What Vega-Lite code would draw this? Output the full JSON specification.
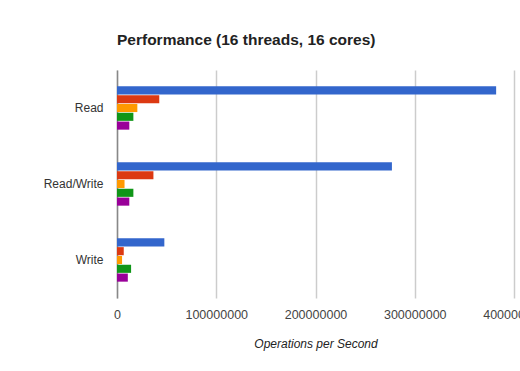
{
  "$schema": "https://vega.github.io/schema/vega-lite/v6.json",
  "autosize": {"type": "none"},
  "padding": {"left": 117, "top": 70, "right": 6, "bottom": 73},
  "width": 397,
  "height": 228,
  "background": "white",
  "title": {
    "text": "Performance (16 threads, 16 cores)",
    "anchor": "start",
    "frame": "group",
    "font": "Liberation Sans",
    "fontSize": 15.5,
    "fontWeight": "bold",
    "color": "#222222",
    "offset": 22
  },
  "data": {
    "values": [
      {"op": "Read", "series": "S1", "value": 382000000},
      {"op": "Read", "series": "S2", "value": 42600000},
      {"op": "Read", "series": "S3", "value": 20500000},
      {"op": "Read", "series": "S4", "value": 16500000},
      {"op": "Read", "series": "S5", "value": 12400000},
      {"op": "Read/Write", "series": "S1", "value": 277000000},
      {"op": "Read/Write", "series": "S2", "value": 36700000},
      {"op": "Read/Write", "series": "S3", "value": 7600000},
      {"op": "Read/Write", "series": "S4", "value": 16500000},
      {"op": "Read/Write", "series": "S5", "value": 12400000},
      {"op": "Write", "series": "S1", "value": 47700000},
      {"op": "Write", "series": "S2", "value": 6800000},
      {"op": "Write", "series": "S3", "value": 5100000},
      {"op": "Write", "series": "S4", "value": 14200000},
      {"op": "Write", "series": "S5", "value": 10900000}
    ]
  },
  "mark": {"type": "bar"},
  "encoding": {
    "y": {
      "field": "op",
      "type": "nominal",
      "sort": ["Read", "Read/Write", "Write"],
      "scale": {"paddingInner": 0.43, "paddingOuter": 0.215},
      "axis": {
        "title": null,
        "domain": true,
        "domainColor": "#888888",
        "domainWidth": 1.5,
        "ticks": false,
        "labelFont": "Liberation Sans",
        "labelFontSize": 12,
        "labelColor": "#333333",
        "labelPadding": 14
      }
    },
    "yOffset": {
      "field": "series",
      "type": "nominal",
      "scale": {"paddingInner": 0.08}
    },
    "x": {
      "field": "value",
      "type": "quantitative",
      "scale": {"domain": [0, 400000000], "nice": false},
      "axis": {
        "title": "Operations per Second",
        "titleFont": "Liberation Sans",
        "titleFontSize": 12,
        "titleFontStyle": "italic",
        "titleFontWeight": "normal",
        "titleColor": "#222222",
        "titlePadding": 18,
        "values": [0, 100000000, 200000000, 300000000, 400000000],
        "format": "d",
        "domain": false,
        "ticks": false,
        "grid": true,
        "gridColor": "#cccccc",
        "gridWidth": 1.5,
        "labelFlush": false,
        "labelOverlap": false,
        "labelBound": false,
        "labelFont": "Liberation Sans",
        "labelFontSize": 12.5,
        "labelColor": "#444444",
        "labelPadding": 10
      }
    },
    "color": {
      "field": "series",
      "type": "nominal",
      "scale": {
        "domain": ["S1", "S2", "S3", "S4", "S5"],
        "range": ["#3366cc", "#dc3912", "#ff9900", "#109618", "#990099"]
      },
      "legend": null
    }
  },
  "config": {"view": {"stroke": null}}
}
